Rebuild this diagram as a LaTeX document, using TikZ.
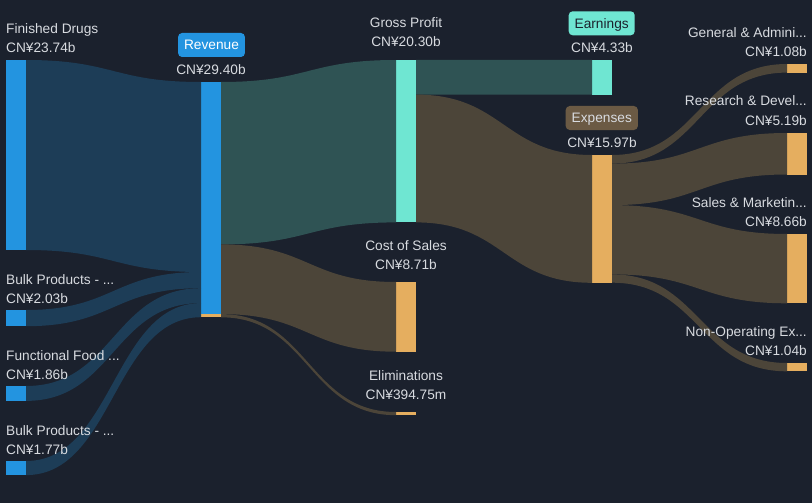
\documentclass[tikz,border=0pt]{standalone}
\usepackage{fontspec}
\setmainfont{Liberation Sans}
\usetikzlibrary{calc}

\definecolor{bg}{HTML}{1B212D}
\definecolor{txt}{HTML}{D8DBE0}
\definecolor{blu}{HTML}{2394E0}
\definecolor{blulink}{HTML}{1D3D57}
\definecolor{aqua}{HTML}{6FE6D2}
\definecolor{aqualink}{HTML}{2F5354}
\definecolor{orng}{HTML}{E5AE5F}
\definecolor{brnlink}{HTML}{4C4539}
\definecolor{brnbox}{HTML}{6B5A44}

% band from source #1 (offset #2) to target #3 (offset #4), thickness #5
\newcommand{\band}[6]{%
  \coordinate (s1) at ([yshift=-#2pt]#1.north east);
  \coordinate (s2) at ([yshift=-#2pt-#5pt]#1.north east);
  \coordinate (t1) at ([yshift=-#4pt]#3.north west);
  \coordinate (t2) at ([yshift=-#4pt-#5pt]#3.north west);
  \coordinate (m) at ($(s1)!.5!(t1)$);
  \fill[#6] (s1) .. controls (m |- s1) and (m |- t1) .. (t1)
    -- (t2) .. controls (m |- t2) and (m |- s2) .. (s2) -- cycle;}

\tikzset{
  bar/.style={rectangle, inner sep=0pt, outer sep=0pt, minimum width=20pt,
    minimum height=#1pt, anchor=north west},
  lbl/.style={text=txt, inner sep=0pt, font=\fontsize{13.7}{16}\selectfont},
  tag/.style={rounded corners=4pt, inner xsep=6pt, inner ysep=0pt,
    minimum height=24pt, text height=9.7pt, text depth=0pt,
    font=\fontsize{13.7}{16}\selectfont}
}

\begin{document}
\begin{tikzpicture}[x=1pt,y=-1pt]

        \fill[bg] (0,0) rectangle (812,503);

        \begin{scope}[every node/.style={bar}]
          \node[bar=190,   fill=blu]  (fd)   at (6,60)    {};
          \node[bar=16.2,  fill=blu]  (bp1)  at (6,310)   {};
          \node[bar=14.9,  fill=blu]  (ff)   at (6,386)   {};
          \node[bar=14.1,  fill=blu]  (bp2)  at (6,461)   {};
          \node[bar=235.3, fill=blu]  (rev)  at (201,82)  {};
          \node[bar=3.2,   fill=orng] (revx) at (201,314.1) {};
          \node[bar=162.4, fill=aqua] (gp)   at (396,60)  {};
          \node[bar=69.7,  fill=orng] (cos)  at (396,282) {};
          \node[bar=3.2,   fill=orng] (elim) at (396,412) {};
          \node[bar=34.6,  fill=aqua] (earn) at (592,60)  {};
          \node[bar=127.8, fill=orng] (exp)  at (592,155) {};
          \node[bar=8.6,   fill=orng] (ga)   at (787,64)  {};
          \node[bar=41.5,  fill=orng] (rd)   at (787,133) {};
          \node[bar=69.3,  fill=orng] (sm)   at (787,234) {};
          \node[bar=8.3,   fill=orng] (nop)  at (787,363) {};
        \end{scope}

        % flows
        \band{fd}{0}{rev}{0}{190}{blulink}
        \band{bp1}{0}{rev}{190}{16.2}{blulink}
        \band{ff}{0}{rev}{206.2}{14.9}{blulink}
        \band{bp2}{0}{rev}{221.1}{14.1}{blulink}
        \band{rev}{0}{gp}{0}{162.4}{aqualink}
        \band{rev}{162.4}{cos}{0}{69.7}{brnlink}
        \band{rev}{232.1}{elim}{0}{3.2}{brnlink}
        \band{gp}{0}{earn}{0}{34.6}{aqualink}
        \band{gp}{34.6}{exp}{0}{127.8}{brnlink}
        \band{exp}{0}{ga}{0}{8.6}{brnlink}
        \band{exp}{8.6}{rd}{0}{41.5}{brnlink}
        \band{exp}{50.1}{sm}{0}{69.3}{brnlink}
        \band{exp}{119.4}{nop}{0}{8.3}{brnlink}

        \begin{scope}[every node/.style={lbl, anchor=base west}]
          \node (fdl)  at (6,34)    {Finished Drugs};
          \node (fdv)  at (6,53)    {CN¥23.74b};
          \node (bp1l) at (6,284)   {Bulk Products - ...};
          \node (bp1v) at (6,303)   {CN¥2.03b};
          \node (ffl)  at (6,360)   {Functional Food ...};
          \node (ffv)  at (6,379)   {CN¥1.86b};
          \node (bp2l) at (6,435)   {Bulk Products - ...};
          \node (bp2v) at (6,454)   {CN¥1.77b};
        \end{scope}

        \begin{scope}[every node/.style={lbl, anchor=base}]
          \node (revv)  at (211,75)    {CN¥29.40b};
          \node (gpl)   at (406,27.5)  {Gross Profit};
          \node (gpv)   at (406,46.5)  {CN¥20.30b};
          \node (cosl)  at (406,250)   {Cost of Sales};
          \node (cosv)  at (406,269)   {CN¥8.71b};
          \node (eliml) at (406,380.5) {Eliminations};
          \node (elimv) at (406,399)   {CN¥394.75m};
          \node (earnv) at (602,52.5)  {CN¥4.33b};
          \node (expv)  at (602,147.5) {CN¥15.97b};
        \end{scope}

        \begin{scope}[every node/.style={lbl, anchor=base east}]
          \node (gal)  at (807,37.5)  {General \& Admini...};
          \node (gav)  at (807,56.5)  {CN¥1.08b};
          \node (rdl)  at (807,106)   {Research \& Devel...};
          \node (rdv)  at (807,125)   {CN¥5.19b};
          \node (sml)  at (807,207.5) {Sales \& Marketin...};
          \node (smv)  at (807,226.5) {CN¥8.66b};
          \node (nopl) at (807,336.5) {Non-Operating Ex...};
          \node (nopv) at (807,355)   {CN¥1.04b};
        \end{scope}

        \node[tag, fill=blu, text=white]  (revt)  at (211.5,45)  {Revenue};
        \node[tag, fill=aqua, text=bg]    (earnt) at (601.7,23.3) {Earnings};
        \node[tag, fill=brnbox, text=txt] (expt)  at (601.8,118) {Expenses};

      \end{tikzpicture}
\end{document}
